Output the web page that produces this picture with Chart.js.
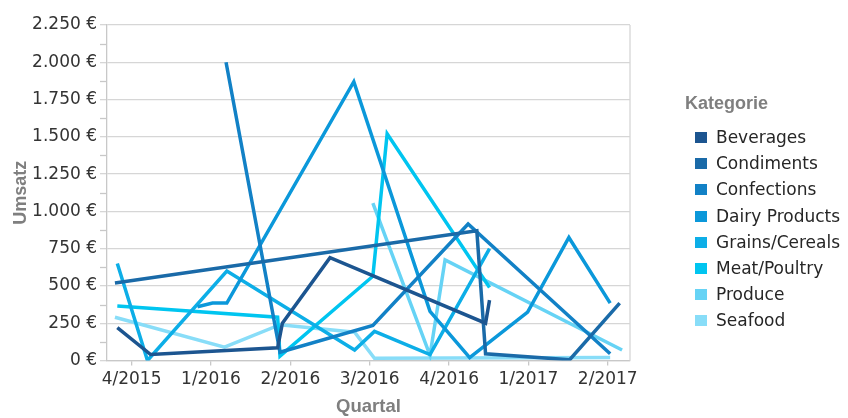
<!DOCTYPE html>
<html>
<head>
<meta charset="utf-8">
<script src="https://cdn.jsdelivr.net/npm/chart.js@4/dist/chart.umd.min.js"></script>
<style>
  html, body { margin: 0; padding: 0; background: #ffffff; }
  #wrap { position: relative; width: 848px; height: 418px; overflow: hidden; }
  #chart { position: absolute; left: 0; top: 0; }
  #legend { position: absolute; left: 685px; top: 91px; }
  #legend .title { font-family: "Liberation Sans", Arial, sans-serif; font-weight: bold; font-size: 18px; color: #7f7f7f; height: 24px; line-height: 24px; margin-bottom: 14px; }
  #legend .item { position: relative; height: 26.2px; line-height: 18px; font-family: "DejaVu Sans", sans-serif; font-size: 17px; color: #262626; white-space: nowrap; }
  #legend .swatch { position: absolute; left: 10px; top: 3px; width: 12px; height: 11px; }
  #legend .label { position: absolute; left: 31px; top: -1px; }
</style>
</head>
<body>
<div id="wrap">
  <canvas id="chart" width="848" height="418"></canvas>
  <div id="legend"></div>
</div>
<script>
// Quarter labels on the horizontal axis (axis position 0 = 4/2015)
const quarterLabels = ['4/2015', '1/2016', '2/2016', '3/2016', '4/2016', '1/2017', '2/2017'];

const categories = ['Beverages', 'Condiments', 'Confections', 'Dairy Products',
                    'Grains/Cereals', 'Meat/Poultry', 'Produce', 'Seafood'];

// Per category: position on the quarter axis and sales (EUR)
const beveragesQ      = [-0.18, 0.24, 1.84, 1.90, 2.50, 4.46, 4.51];
const beveragesSales  = [220, 40, 85, 250, 690, 250, 405];

const condimentsQ     = [-0.21, 4.35, 4.46, 5.52, 6.15];
const condimentsSales = [520, 870, 45, 5, 385];

const confectionsQ     = [1.19, 1.87, 3.04, 4.24, 6.03];
const confectionsSales = [2000, 55, 235, 915, 45];

const dairyQ     = [0.83, 1.02, 1.20, 2.80, 3.76, 4.26, 4.99, 5.51, 6.03];
const dairySales = [360, 385, 385, 1870, 330, 20, 325, 825, 385];

const grainsQ     = [-0.18, 0.20, 1.20, 2.81, 3.06, 3.76, 4.51];
const grainsSales = [650, 0, 600, 70, 195, 40, 750];

const meatQ     = [-0.18, 1.84, 1.87, 3.04, 3.22, 4.51];
const meatSales = [365, 290, 30, 565, 1520, 490];

const produceQ     = [3.04, 3.76, 3.95, 6.18];
const produceSales = [1055, 35, 675, 70];

const seafoodQ     = [-0.21, 1.17, 1.87, 2.81, 3.06, 6.03];
const seafoodSales = [290, 90, 240, 190, 15, 20];

const seriesColors = ['#1c5590', '#1a6aa8', '#1281c6', '#0b98da',
                      '#0daee7', '#00c5f0', '#66d3f5', '#88ddf8'];

const seriesQ = [beveragesQ, condimentsQ, confectionsQ, dairyQ, grainsQ, meatQ, produceQ, seafoodQ];
const seriesSales = [beveragesSales, condimentsSales, confectionsSales, dairySales,
                     grainsSales, meatSales, produceSales, seafoodSales];

const datasets = categories.map((name, i) => ({
  label: name,
  data: seriesQ[i].map((q, k) => ({ x: q, y: seriesSales[i][k] })),
  borderColor: seriesColors[i],
  backgroundColor: seriesColors[i],
  borderWidth: 3.5,
  pointRadius: 0,
  pointHoverRadius: 0,
  tension: 0,
  showLine: true,
  fill: false
}));

function euro(v) {
  return String(v).replace(/\B(?=(\d{3})+(?!\d))/g, '.') + ' \u20AC';
}

const TICK_FONT = '"DejaVu Sans", sans-serif';
const TITLE_FONT = '"Liberation Sans", Arial, sans-serif';

// Minor tick marks on the value axis and the right border of the plot area
const frameExtras = {
  id: 'frameExtras',
  afterDraw(chart) {
    const { ctx, chartArea } = chart;
    const y = chart.scales.y;
    ctx.save();
    ctx.strokeStyle = '#c8c8c8';
    ctx.lineWidth = 1.3;
    for (let v = 125; v < 2250; v += 250) {
      const py = Math.round(y.getPixelForValue(v)) + 0.5;
      ctx.beginPath();
      ctx.moveTo(chartArea.left - 7, py);
      ctx.lineTo(chartArea.left, py);
      ctx.stroke();
    }
    ctx.strokeStyle = '#d6d6d6';
    ctx.beginPath();
    ctx.moveTo(chartArea.right, chartArea.top);
    ctx.lineTo(chartArea.right, chartArea.bottom);
    ctx.stroke();
    ctx.restore();
  }
};

const chart = new Chart(document.getElementById('chart'), {
  type: 'scatter',
  data: { datasets },
  options: {
    responsive: false,
    devicePixelRatio: 1,
    animation: false,
    events: [],
    layout: { padding: { left: 0, right: 218, top: 25, bottom: 0 } },
    plugins: { legend: { display: false }, tooltip: { enabled: false } },
    scales: {
      x: {
        type: 'linear',
        min: -0.31,
        max: 6.28,
        afterFit(scale) { scale.height = 57.5; },
        afterBuildTicks(axis) {
          axis.ticks = quarterLabels.map((_, i) => ({ value: i }));
        },
        ticks: {
          autoSkip: false,
          maxRotation: 0,
          padding: 4,
          color: '#333333',
          font: { family: TICK_FONT, size: 17 },
          callback: (v) => quarterLabels[v]
        },
        grid: { drawOnChartArea: false, drawTicks: true, tickLength: 5, color: '#c8c8c8', lineWidth: 1.3 },
        border: { color: '#c8c8c8', width: 1.3 },
        title: {
          display: true, text: 'Quartal', color: '#7f7f7f',
          font: { family: TITLE_FONT, size: 18.5, weight: 'bold' },
          padding: { top: 4, bottom: 0 }
        }
      },
      y: {
        min: 0,
        max: 2250,
        afterFit(scale) { scale.width = 107; },
        ticks: {
          stepSize: 250,
          padding: 3,
          color: '#333333',
          font: { family: TICK_FONT, size: 17 },
          callback: (v) => euro(v)
        },
        grid: { color: '#d6d6d6', lineWidth: 1.3, tickLength: 7 },
        border: { color: '#c8c8c8', width: 1.3 },
        title: {
          display: true, text: 'Umsatz', color: '#7f7f7f',
          font: { family: TITLE_FONT, size: 18, weight: 'bold' },
          padding: { top: 10, bottom: 0 }
        }
      }
    }
  },
  plugins: [frameExtras]
});

// Legend built from the chart's own datasets
const legend = document.getElementById('legend');
const title = document.createElement('div');
title.className = 'title';
title.textContent = 'Kategorie';
legend.appendChild(title);
chart.data.datasets.forEach((ds) => {
  const item = document.createElement('div');
  item.className = 'item';
  const sw = document.createElement('span');
  sw.className = 'swatch';
  sw.style.background = ds.borderColor;
  const lab = document.createElement('span');
  lab.className = 'label';
  lab.textContent = ds.label;
  item.appendChild(sw);
  item.appendChild(lab);
  legend.appendChild(item);
});
</script>
</body>
</html>
